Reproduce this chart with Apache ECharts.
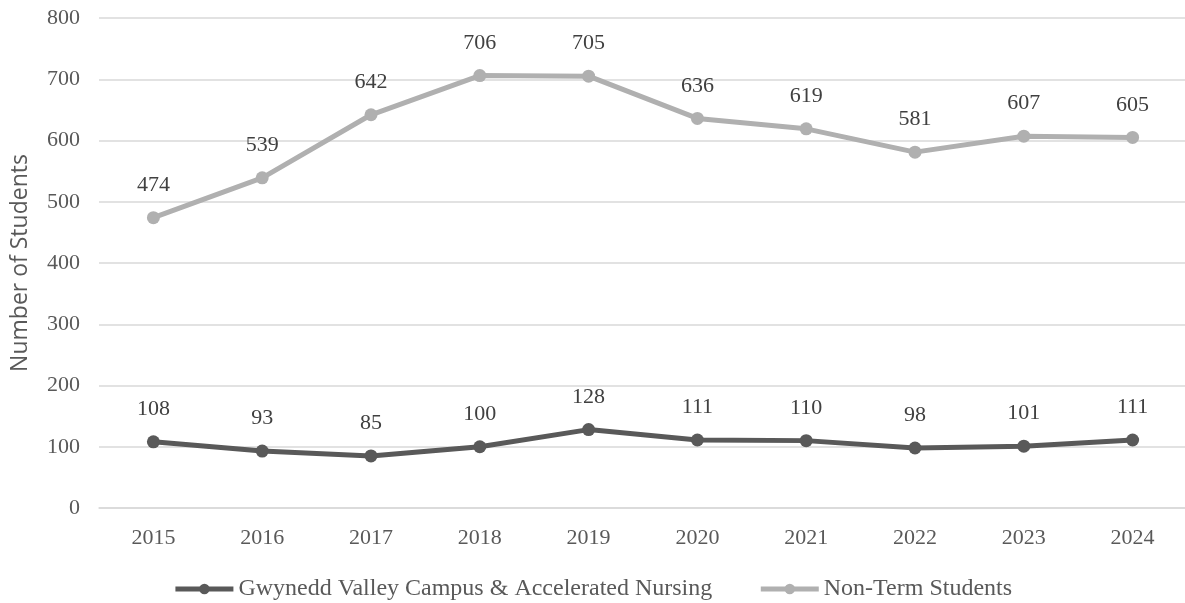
<!DOCTYPE html>
<html>
<head>
<meta charset="utf-8">
<script src="https://cdn.jsdelivr.net/npm/echarts@6/dist/echarts.min.js"></script>
<style>html,body{margin:0;padding:0;background:#fff}#c{width:1185px;height:603px}</style>
</head>
<body>
<div id="c"></div>
<script>
const years = ['2015','2016','2017','2018','2019','2020','2021','2022','2023','2024'];
const campusName = 'Gwynedd Valley Campus & Accelerated Nursing';
const campus = [108, 93, 85, 100, 128, 111, 110, 98, 101, 111];
const nonTermName = 'Non-Term Students';
const nonTerm = [474, 539, 642, 706, 705, 636, 619, 581, 607, 605];
const yAxisTitle = 'Number of Students';

const serif = '"Liberation Serif", "DejaVu Serif", serif';
const chart = echarts.init(document.getElementById('c'));
function mk(name, data, color) {
  return {
    name: name, type: 'line', data: data,
    symbol: 'circle', symbolSize: 13,
    lineStyle: { color: color, width: 5 },
    itemStyle: { color: color },
    label: { show: true, position: 'top', distance: 15, color: '#404040', fontFamily: serif, fontSize: 22 },
    animation: false
  };
}
chart.setOption({
  animation: false,
  grid: { left: 99, right: -2, top: 18, bottom: 95, containLabel: false, outerBoundsMode: 'none' },
  legend: {
    top: 572, left: 'center', itemWidth: 58, itemHeight: 13, itemGap: 46,
    lineStyle: { width: 5 },
    textStyle: { color: '#595959', fontFamily: serif, fontSize: 24 },
    data: [campusName, nonTermName]
  },
  xAxis: {
    type: 'category', data: years, boundaryGap: true,
    axisLine: { show: true, lineStyle: { color: '#d9d9d9', width: 1.5 } },
    axisTick: { show: false },
    axisLabel: { color: '#595959', fontFamily: serif, fontSize: 22, margin: 19 }
  },
  yAxis: {
    type: 'value', min: 0, max: 800, interval: 100,
    name: yAxisTitle, nameLocation: 'middle', nameGap: 67, nameRotate: 90,
    nameTextStyle: { color: '#595959', fontFamily: '"Open Sans", "Liberation Sans", sans-serif', fontSize: 23 },
    axisLine: { show: false }, axisTick: { show: false },
    axisLabel: { color: '#595959', fontFamily: serif, fontSize: 22, margin: 19 },
    splitLine: { lineStyle: { color: '#d9d9d9', width: 1.5 } }
  },
  series: [mk(campusName, campus, '#595959'), mk(nonTermName, nonTerm, '#b0b0b0')]
});
</script>
</body>
</html>
